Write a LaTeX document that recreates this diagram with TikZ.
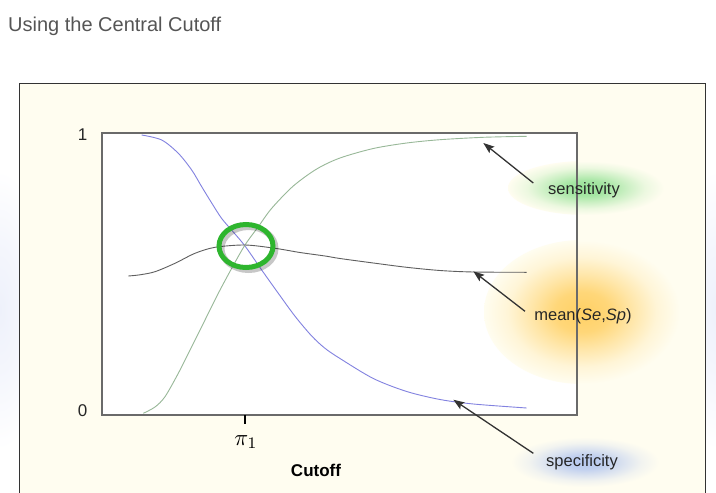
\documentclass[tikz,border=0pt]{standalone}
\usepackage{fontspec}
\setmainfont{Liberation Sans}
\usetikzlibrary{arrows.meta}
\definecolor{panelbg}{HTML}{FFFDF0}
\definecolor{boxline}{HTML}{6A6A6A}
\definecolor{spcol}{HTML}{8282E0}
\definecolor{secol}{HTML}{98B898}
\definecolor{meancol}{HTML}{5E5E5E}
\definecolor{ringcol}{HTML}{2EB52E}
\definecolor{glowgreen}{HTML}{96E296}
\definecolor{gloworange}{HTML}{FFD064}
\definecolor{glowblue}{HTML}{B6C8EF}
\definecolor{sideblue}{HTML}{EEF1FB}
\definecolor{titlecol}{HTML}{555555}
\definecolor{arrcol}{HTML}{333333}
\pgfdeclareradialshading{greenglow}{\pgfpoint{0bp}{0bp}}{color(0bp)=(glowgreen); color(7bp)=(glowgreen!85!panelbg); color(13bp)=(glowgreen!50!panelbg); color(19bp)=(glowgreen!18!panelbg); color(25bp)=(panelbg); color(50bp)=(panelbg)}
\pgfdeclareradialshading{orangeglow}{\pgfpoint{0bp}{0bp}}{color(0bp)=(gloworange); color(7bp)=(gloworange!85!panelbg); color(13bp)=(gloworange!50!panelbg); color(19bp)=(gloworange!18!panelbg); color(25bp)=(panelbg); color(50bp)=(panelbg)}
\pgfdeclareradialshading{blueglow}{\pgfpoint{0bp}{0bp}}{color(0bp)=(glowblue); color(7bp)=(glowblue!85!panelbg); color(13bp)=(glowblue!50!panelbg); color(19bp)=(glowblue!18!panelbg); color(25bp)=(panelbg); color(50bp)=(panelbg)}
\pgfdeclareradialshading{sideglow}{\pgfpoint{0bp}{0bp}}{color(0bp)=(sideblue); color(12bp)=(sideblue!60!white); color(25bp)=(white); color(50bp)=(white)}
\tikzset{
  curve/.style={line width=0.9pt},
  pointer/.style={draw=arrcol, line width=1.3pt, -{Stealth[length=11pt,width=8pt,inset=2pt]}},
  lbl/.style={anchor=base, inner sep=0pt, font=\fontsize{16.5}{18}\selectfont, text=black!85},
  axlbl/.style={anchor=base, inner sep=0pt, font=\fontsize{17}{18}\selectfont, text=black!85}
}
\begin{document}
\begin{tikzpicture}[x=1pt,y=-1pt]
\useasboundingbox (0,0) rectangle (716,493);
% faint outer glows
\shade[shading=sideglow] (0,310) ellipse [x radius=45pt, y radius=140pt];
\shade[shading=sideglow] (716,310) ellipse [x radius=45pt, y radius=140pt];
% title
\node[anchor=base west, inner sep=0pt, font=\fontsize{20}{22}\selectfont, text=titlecol] (title) at (8,31.5) {Using the Central Cutoff};
% panel
\draw[draw=black!80, fill=panelbg, line width=1pt] (19,83) rectangle (705,520);
% plot box fill
\fill[white] (102,133) rectangle (577,415);
% glows
\shade[shading=greenglow] (586,188) ellipse [x radius=78pt, y radius=27pt];
\shade[shading=orangeglow] (582,312) ellipse [x radius=98pt, y radius=72pt];
\shade[shading=blueglow] (585,462) ellipse [x radius=74pt, y radius=25pt];
% plot box border
\draw[boxline, line width=1.4pt] (102,133) rectangle (577,415);
% curves
\draw[curve, spcol] plot[smooth, tension=0.5] coordinates {(141.7,135) (161.7,140) (178.3,153.3) (191.7,170) (201.7,186.7) (211.7,203) (221.7,218.5) (233.3,232) (245,246) (261.7,270) (278.3,293.3) (295,316.2) (311.7,336) (325,348.3) (340,358.5) (373.3,378.5) (406.7,391.5) (440,399.5) (473.3,404) (526.7,408)};
\draw[curve, secol] plot[smooth, tension=0.5] coordinates {(143.3,413.3) (155,407) (165,396.7) (178.3,373.3) (191.7,346.7) (205,320) (218.3,293.3) (231.7,268.3) (245,245) (258.3,226.7) (271.7,208.3) (293.3,186) (316.7,169) (340,158) (373.3,148.5) (406.7,143) (440,139.7) (483.3,137.3) (526.7,136.3)};
\draw[curve, meancol] plot[smooth, tension=0.5] coordinates {(128.3,276) (140,274.8) (155,271.7) (175,263.3) (195,253.3) (215,247.3) (245,245) (275,248.3) (300,252.5) (325,256) (340,258.5) (373.3,263) (406.7,267.3) (440,270.5) (473.3,272) (526.7,272.3)};
% ring with shadow
\draw[black, opacity=0.22, line width=6pt] (248.5,248.5) ellipse [x radius=27pt, y radius=21.5pt];
\draw[ringcol, line width=5pt] (246,246) ellipse [x radius=27pt, y radius=21.5pt];
% tick
\draw[black, line width=1.2pt] (245,415) -- (245,424);
% axis labels
\node[axlbl] (one) at (82.5,140) {1};
\node[axlbl] (zero) at (82.5,416) {0};
\node[anchor=base, inner sep=0pt, scale=2.3] (pi) at (246,445.5) {$\pi_1$};
\node[anchor=base, inner sep=0pt, font=\fontsize{17}{18}\selectfont\bfseries] (cutoff) at (316,476) {Cutoff};
% labels
\node[lbl] (sens) at (584,194) {sensitivity};
\node[lbl] (mean) at (583,320) {mean(\textit{Se},\textit{Sp})};
\node[lbl] (spec) at (582,466.7) {specificity};
% arrows
\coordinate (sensTail) at (533.3,183);
\coordinate (sensTip) at (483.3,143);
\coordinate (meanTail) at (525,311.3);
\coordinate (meanTip) at (473.3,271.3);
\coordinate (specTail) at (533.3,453.3);
\coordinate (specTip) at (453.3,399.7);
\draw[pointer] (sensTail) -- (sensTip);
\draw[pointer] (meanTail) -- (meanTip);
\draw[pointer] (specTail) -- (specTip);
\end{tikzpicture}
\end{document}
